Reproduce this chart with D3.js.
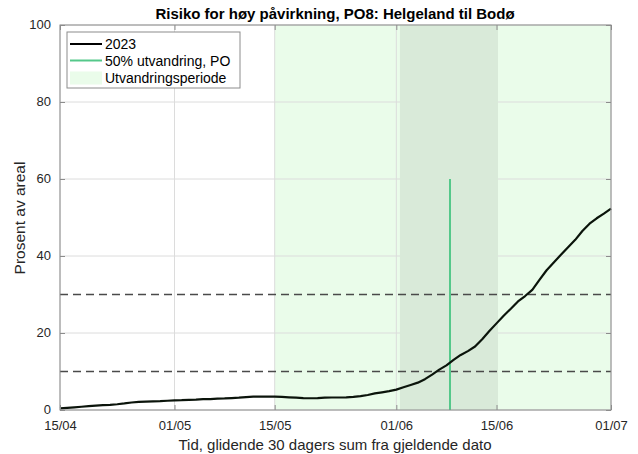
<!DOCTYPE html>
<html><head><meta charset="utf-8">
<script src="https://cdn.jsdelivr.net/npm/d3@7"></script>
<style>body{margin:0;background:#fff;}svg{display:block;font-family:"Liberation Sans",Arial,Helvetica,sans-serif;}</style>
</head><body><svg id="c" width="638" height="454"></svg>
<script>
// Data
const startDate = "2023-04-15";
const values2023 = [0.4,0.55,0.7,0.85,1.0,1.15,1.25,1.35,1.5,1.7,1.95,2.1,2.2,2.25,2.3,2.4,
  2.5,2.55,2.65,2.7,2.8,2.85,2.95,3.0,3.1,3.2,3.35,3.45,3.5,3.5,
  3.45,3.4,3.3,3.2,3.1,3.05,3.1,3.2,3.25,3.25,3.3,3.4,3.6,3.9,4.3,4.6,4.9,
  5.3,5.9,6.5,7.1,8.0,9.2,10.5,11.6,13.0,14.3,15.3,16.5,18.4,20.5,
  22.5,24.5,26.3,28.2,29.6,31.2,33.8,36.3,38.3,40.3,42.3,44.2,46.5,48.4,49.8,51.0,52.3];
const migrationLineDate = "2023-06-08T12:00";
const migrationLineValue = 60;
const periodStart = "2023-05-15";
const periodEnd = "2023-07-01";
const bandStart = "2023-06-01T12:00";
const bandEnd = "2023-06-15T05:00";
const thresholds = [10, 30];
const xTickDates = ["2023-04-15","2023-05-01","2023-05-15","2023-06-01","2023-06-15","2023-07-01"];
const xTickLabels = ["15/04","01/05","15/05","01/06","15/06","01/07"];
const yTicks = [0,20,40,60,80,100];
const legendLabels = ["2023","50% utvandring, PO","Utvandringsperiode"];
const titleText = "Risiko for høy påvirkning, PO8: Helgeland til Bodø";
const xLabel = "Tid, glidende 30 dagers sum fra gjeldende dato";
const yLabel = "Prosent av areal";

const svg = d3.select("#c");
const L=60,R=611,T=25,B=410;
const p = s => new Date(s.length===10 ? s+"T00:00" : s);
const day0 = p(startDate);
const dates = values2023.map((v,i)=>d3.timeDay.offset(day0,i));
const x = d3.scaleTime().domain([p("2023-04-15"),p("2023-07-01")]).range([L,R]);
const y = d3.scaleLinear().domain([0,100]).range([B,T]);

// background regions
svg.append("rect").attr("x",x(p(periodStart))).attr("y",T).attr("width",x(p(periodEnd))-x(p(periodStart))).attr("height",B-T).attr("fill","#eafcea");
// grid
const gridC="#dcdcdc";
svg.append("g").selectAll("line").data(xTickDates).join("line")
 .attr("x1",d=>x(p(d))).attr("x2",d=>x(p(d))).attr("y1",T).attr("y2",B).attr("stroke",gridC).attr("stroke-width",1);
svg.append("g").selectAll("line").data(yTicks).join("line")
 .attr("y1",d=>y(d)).attr("y2",d=>y(d)).attr("x1",L).attr("x2",R).attr("stroke",gridC).attr("stroke-width",1);
// darker band
svg.append("rect").attr("x",x(p(bandStart))).attr("y",T).attr("width",x(p(bandEnd))-x(p(bandStart))).attr("height",B-T).attr("fill","#d9ead9");
// thresholds
svg.append("g").selectAll("line").data(thresholds).join("line")
 .attr("x1",L).attr("x2",R).attr("y1",d=>y(d)).attr("y2",d=>y(d))
 .attr("stroke","#4a4a4a").attr("stroke-width",1.3).attr("stroke-dasharray","8,5");
// migration line
svg.append("line").attr("x1",x(p(migrationLineDate))).attr("x2",x(p(migrationLineDate))).attr("y1",y(0)).attr("y2",y(migrationLineValue))
 .attr("stroke","#55c88a").attr("stroke-width",2);
// curve
svg.append("path").datum(values2023).attr("fill","none").attr("stroke","#0b140b").attr("stroke-width",2.2)
 .attr("stroke-linejoin","round")
 .attr("d",d3.line().x((d,i)=>x(dates[i])).y(d=>y(d)));

// axes box
const axC="#8c8c8c";
svg.append("rect").attr("x",L).attr("y",T).attr("width",R-L).attr("height",B-T).attr("fill","none").attr("stroke",axC).attr("stroke-width",1);
const xAxis = d3.axisBottom(x).tickValues(xTickDates.map(p)).tickFormat((d,i)=>xTickLabels[i]).tickSizeInner(-5).tickSizeOuter(0).tickPadding(11);
const gx = svg.append("g").attr("transform",`translate(0,${B})`).call(xAxis);
const gxt = svg.append("g").attr("transform",`translate(0,${T})`).call(d3.axisTop(x).tickValues(xTickDates.map(p)).tickFormat("").tickSizeInner(-5).tickSizeOuter(0));
const yAxis = d3.axisLeft(y).tickValues(yTicks).tickSizeInner(-5).tickSizeOuter(0).tickPadding(9);
const gy = svg.append("g").attr("transform",`translate(${L},0)`).call(yAxis);
const gyr = svg.append("g").attr("transform",`translate(${R},0)`).call(d3.axisRight(y).tickValues(yTicks).tickFormat("").tickSizeInner(-5).tickSizeOuter(0));
[gx,gxt,gy,gyr].forEach(g=>{g.select(".domain").remove();g.selectAll("line").attr("stroke",axC);
  g.selectAll("text").attr("fill","#262626").style("font-size","13px").style("font-family","'Liberation Sans',Arial,sans-serif");});
gy.selectAll("text").attr("dy","0.28em");

// title & labels
svg.append("text").attr("x",335).attr("y",19).attr("text-anchor","middle").style("font-weight","bold").style("font-size","15px").attr("fill","#000").text(titleText);
svg.append("text").attr("x",335).attr("y",450).attr("text-anchor","middle").style("font-size","15px").attr("fill","#262626").text(xLabel);
svg.append("text").attr("transform","translate(25,218) rotate(-90)").attr("text-anchor","middle").style("font-size","15.5px").attr("fill","#262626").text(yLabel);

// legend
const lg = svg.append("g");
lg.append("rect").attr("x",67).attr("y",32).attr("width",173).attr("height",56).attr("fill","#fff").attr("stroke","#8c8c8c").attr("stroke-width",1);
const rows=[44,60.5,78];
lg.append("line").attr("x1",70).attr("x2",102).attr("y1",rows[0]).attr("y2",rows[0]).attr("stroke","#000").attr("stroke-width",2);
lg.append("line").attr("x1",70).attr("x2",102).attr("y1",rows[1]).attr("y2",rows[1]).attr("stroke","#55c88a").attr("stroke-width",2);
lg.append("rect").attr("x",70).attr("y",rows[2]-6.5).attr("width",32).attr("height",13).attr("fill","#eafcea");
lg.selectAll("text.l").data(legendLabels).join("text").attr("class","l").attr("x",105).attr("y",(d,i)=>rows[i]+5)
 .style("font-size","14px").attr("fill","#000").text(d=>d);
</script></body></html>
